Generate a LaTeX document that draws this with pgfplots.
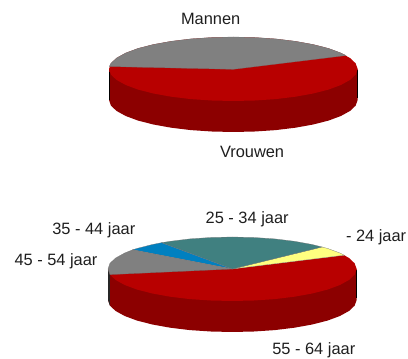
\documentclass[border=0pt]{standalone}
\usepackage{fontspec}
\setmainfont{Liberation Sans}
\usepackage{pgfplots}
\pgfplotsset{compat=1.18}
\definecolor{pieRed}{RGB}{184,0,0}
\definecolor{pieDark}{RGB}{140,0,0}
\definecolor{pieGray}{RGB}{128,128,128}
\definecolor{pieTeal}{RGB}{64,128,128}
\definecolor{pieBlue}{RGB}{0,128,192}
\definecolor{pieYellow}{RGB}{255,255,128}
\definecolor{labelInk}{RGB}{30,30,30}
\tikzset{
  wedge/.style={draw=black!55, line width=0.25pt},
  lbl/.style={inner sep=0pt, outer sep=0pt, anchor=base west,
    text=labelInk, font=\fontsize{16.4}{18}\selectfont},
}
\begin{document}
\begin{tikzpicture}
\begin{axis}[
  scale only axis, width=408pt, height=358pt,
  xmin=0, xmax=408, ymin=0, ymax=358,
  y dir=reverse, hide axis, clip=false,
]
% Full canvas, so the page keeps its size
\path (axis cs:0,0) rectangle (axis cs:408,358);
% Gender pie: side wall
\addplot[fill=pieDark, draw=none] coordinates {(109,69)(109,100)(110.9,105.6)(116.5,110.9)(125.7,116)(138.1,120.6)(153.4,124.5)(171.1,127.7)(190.8,130.1)(211.7,131.5)(233.3,132)(254.9,131.5)(275.8,130.1)(295.5,127.7)(313.2,124.5)(328.5,120.6)(340.9,116)(350.1,110.9)(355.7,105.6)(357.6,100)(357.6,69)} -- cycle;
\addplot[black, line width=0.5pt] coordinates {(109.1,72)(109.1,100)};
\addplot[black, line width=0.5pt] coordinates {(357.5,70)(357.5,98)};
% Gender pie: top face, Vrouwen
\addplot[fill=pieRed, draw=none] coordinates {(357.6,69)(355.7,63.4)(350.1,58.1)(340.9,53)(328.5,48.4)(313.2,44.5)(295.5,41.3)(275.8,38.9)(254.9,37.5)(233.3,37)(211.7,37.5)(190.8,38.9)(171.1,41.3)(153.4,44.5)(138.1,48.4)(125.7,53)(116.5,58.1)(110.9,63.4)(109,69)(110.9,74.6)(116.5,79.9)(125.7,85)(138.1,89.6)(153.4,93.5)(171.1,96.7)(190.8,99.1)(211.7,100.5)(233.3,101)(254.9,100.5)(275.8,99.1)(295.5,96.7)(313.2,93.5)(328.5,89.6)(340.9,85)(350.1,79.9)(355.7,74.6)} -- cycle;
% Gender pie: top face, Mannen
\addplot[fill=pieGray, wedge] coordinates {(233.3,69.3)(346,55.5)(340.9,53)(328.5,48.4)(313.2,44.5)(295.5,41.3)(275.8,38.9)(254.9,37.5)(233.3,37)(211.7,37.5)(190.8,38.9)(171.1,41.3)(153.4,44.5)(138.1,48.4)(125.7,53)(116.5,58.1)(110.9,63.4)(109.3,66.5)} -- cycle;

% Age pie: side wall
\addplot[fill=pieDark, draw=none] coordinates {(108,269)(108,300)(109.9,305.6)(115.5,310.9)(124.7,316)(137.1,320.6)(152.4,324.5)(170.1,327.7)(189.8,330.1)(210.7,331.5)(232.3,332)(253.9,331.5)(274.8,330.1)(294.5,327.7)(312.2,324.5)(327.5,320.6)(339.9,316)(349.1,310.9)(354.7,305.6)(356.6,300)(356.6,269)} -- cycle;
\addplot[fill=black!85, draw=none] coordinates {(108,269)(109.9,274.6)(109.9,305.6)(108,300)} -- cycle;
\addplot[black, line width=0.5pt] coordinates {(356.5,270)(356.5,298)};
% Age pie: top face, 55 - 64 jaar
\addplot[fill=pieRed, draw=none] coordinates {(232.3,269)(344.2,255.2)(349.1,258.1)(354.7,263.4)(356.6,269)(354.7,274.6)(349.1,279.9)(339.9,285)(327.5,289.6)(312.2,293.5)(294.5,296.7)(274.8,299.1)(253.9,300.5)(232.3,301)(210.7,300.5)(189.8,299.1)(170.1,296.7)(152.4,293.5)(137.1,289.6)(124.7,285)(115.5,279.9)(109.9,274.6)} -- cycle;
% Age pie: top face, - 24 jaar
\addplot[fill=pieYellow, wedge] coordinates {(232.3,269)(322,247)(327.5,248.4)(339.9,253)(344.2,255.2)} -- cycle;
% Age pie: top face, 25 - 34 jaar
\addplot[fill=pieTeal, wedge] coordinates {(232.3,269)(161.5,242.7)(170.1,241.3)(189.8,238.9)(210.7,237.5)(232.3,237)(253.9,237.5)(274.8,238.9)(294.5,241.3)(312.2,244.5)(322,247)} -- cycle;
% Age pie: top face, 35 - 44 jaar
\addplot[fill=pieBlue, wedge] coordinates {(232.3,269)(132.7,249.8)(137.1,248.4)(152.4,244.5)(161.5,242.7)} -- cycle;
% Age pie: top face, 45 - 54 jaar
\addplot[fill=pieGray, wedge] coordinates {(232.3,269)(109.9,274.6)(108,269)(109.9,263.4)(115.5,258.1)(124.7,253)(132.7,249.8)} -- cycle;

\node[lbl] at (axis cs:181,25) {Mannen};
\node[lbl] at (axis cs:220,158) {Vrouwen};
\node[lbl] at (axis cs:205.7,224) {25 - 34 jaar};
\node[lbl] at (axis cs:52.3,235) {35 - 44 jaar};
\node[lbl] at (axis cs:14.5,265.7) {45 - 54 jaar};
\node[lbl] at (axis cs:346,242) {- 24 jaar};
\node[lbl] at (axis cs:272.3,355) {55 - 64 jaar};
\end{axis}
\end{tikzpicture}
\end{document}
